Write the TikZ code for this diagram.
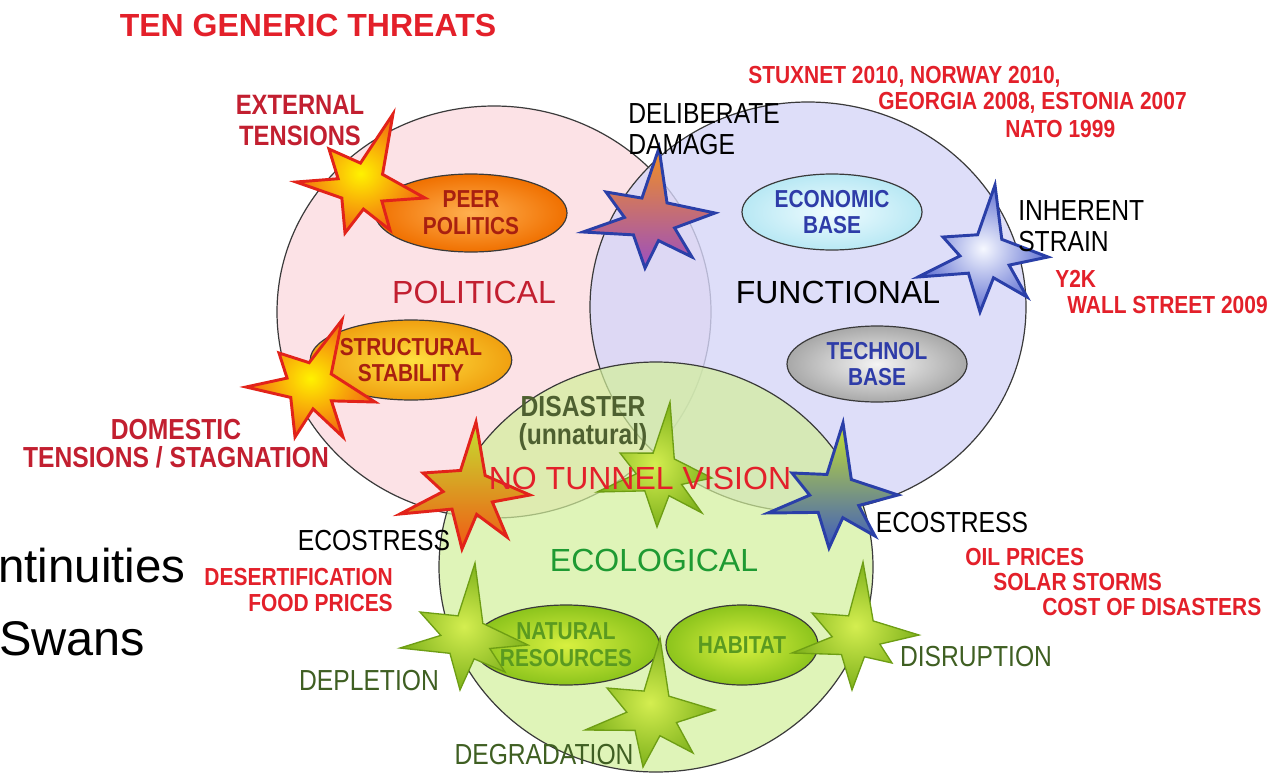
\documentclass[tikz,border=0pt]{standalone}
\usepackage{fontspec}
\setmainfont{Liberation Sans}
\newfontfamily\narrowfont[FakeStretch=0.85]{Liberation Sans}
\usepackage{tikz}
\usetikzlibrary{shapes.geometric}
\usetikzlibrary{calc}

\definecolor{polpink}{HTML}{FCE2E6}
\definecolor{funclav}{HTML}{D6D6F8}
\definecolor{ecolime}{HTML}{D2EF9A}
\definecolor{rimgrey}{HTML}{3A3A3A}
\definecolor{threatred}{HTML}{E3202A}
\definecolor{deepred}{HTML}{C21F30}
\definecolor{peertext}{HTML}{A82010}
\definecolor{basetext}{HTML}{2E3CA8}
\definecolor{leafgreen}{HTML}{1E9A32}
\definecolor{olivetext}{HTML}{3F5F22}
\definecolor{natgreen}{HTML}{5A9A20}
\definecolor{disastertext}{HTML}{4E6030}
\definecolor{starred}{HTML}{E2231A}
\definecolor{starblue}{HTML}{2A3FA8}
\definecolor{stargreen}{HTML}{6E9E14}
% fills
\definecolor{peerin}{HTML}{FFB050}
\definecolor{peerout}{HTML}{F07000}
\definecolor{structin}{HTML}{FFE040}
\definecolor{structout}{HTML}{F0A010}
\definecolor{econin}{HTML}{F0FCFF}
\definecolor{econout}{HTML}{B8E8F4}
\definecolor{techin}{HTML}{F4F4F4}
\definecolor{techout}{HTML}{A8A8A8}
\definecolor{leafin}{HTML}{D8F040}
\definecolor{leafout}{HTML}{8CC41C}
\definecolor{flamein}{HTML}{FFF200}
\definecolor{flameout}{HTML}{F26B10}
\definecolor{delibtop}{HTML}{F39020}
\definecolor{delibbot}{HTML}{9B4FC0}
\definecolor{strin}{HTML}{F6F8FF}
\definecolor{strout}{HTML}{6070D2}
\definecolor{ecotop}{HTML}{C4E030}
\definecolor{ecoredbot}{HTML}{F05A14}
\definecolor{ecobluebot}{HTML}{3D5BC0}
\definecolor{greenin}{HTML}{D4EE50}
\definecolor{greenout}{HTML}{7FB21C}

% six pointed burst: style, centre, six tips in turn
\newcommand\blast[8]{%
  \draw[#1] (#3) -- ($0.54*(#2)+0.23*(#3)+0.23*(#4)$) -- (#4)
    -- ($0.54*(#2)+0.23*(#4)+0.23*(#5)$) -- (#5)
    -- ($0.54*(#2)+0.23*(#5)+0.23*(#6)$) -- (#6)
    -- ($0.54*(#2)+0.23*(#6)+0.23*(#7)$) -- (#7)
    -- ($0.54*(#2)+0.23*(#7)+0.23*(#8)$) -- (#8)
    -- ($0.54*(#2)+0.23*(#8)+0.23*(#3)$) -- cycle;}

\tikzset{
  redstar/.style={draw=starred, line width=2.2pt},
  bluestar/.style={draw=starblue, line width=2.2pt},
  greenstar/.style={draw=stargreen, line width=1pt, inner color=greenin, outer color=greenout},
  base/.style={ellipse, draw=rimgrey, line width=0.9pt, inner sep=0pt, align=center,
    font=\narrowfont\bfseries\fontsize{18.4}{20}\selectfont},
  biglbl/.style={inner sep=0pt, font=\fontsize{24}{26}\selectfont},
  sidelbl/.style={inner sep=0pt, align=left, font=\narrowfont\fontsize{21.75}{23.25}\selectfont},
  newslbl/.style={inner sep=0pt, text=threatred, font=\narrowfont\bfseries\fontsize{18.5}{19.5}\selectfont},
}

\begin{document}
\begin{tikzpicture}[x=0.75pt,y=0.75pt,yscale=-1,xscale=1]
\useasboundingbox (0,0) rectangle (1276,774);

%Shape: Circle [political]
\draw [draw=rimgrey, fill=polpink, line width=0.9] (494,312) ellipse [x radius=217, y radius=206];
%Shape: Circle [functional]
\draw [draw=rimgrey, fill=funclav, fill opacity=0.8, line width=0.9] (808,307) ellipse [x radius=218, y radius=205];
%Shape: Circle [ecological]
\draw [draw=rimgrey, fill=ecolime, fill opacity=0.7, line width=0.9] (656,567) ellipse [x radius=217, y radius=205];

%Shape: Ellipse
\node [base, inner color=peerin, outer color=peerout, text=peertext, minimum width=144pt, minimum height=58.5pt] (peer) at (471,213) {PEER\\POLITICS};
%Shape: Ellipse
\node [base, inner color=structin, outer color=structout, text=peertext, minimum width=121.5pt, minimum height=60pt] (struct) at (411,360) {STRUCTURAL\\STABILITY};
%Shape: Ellipse
\node [base, inner color=econin, outer color=econout, text=basetext, minimum width=135pt, minimum height=57pt] (econ) at (832,212) {ECONOMIC\\BASE};
%Shape: Ellipse
\node [base, inner color=techin, outer color=techout, text=basetext, minimum width=135pt, minimum height=57pt] (techn) at (877,364) {TECHNOL\\BASE};
%Shape: Ellipse
\node [base, inner color=leafin, outer color=leafout, text=natgreen, minimum width=133.5pt, minimum height=60pt] (natres) at (566,645) {NATURAL\\RESOURCES};
%Shape: Ellipse
\node [base, inner color=leafin, outer color=leafout, text=natgreen, minimum width=114pt, minimum height=60pt] (habitat) at (742,645) {HABITAT};

%Shape: Star [external tensions]
\blast{redstar, inner color=flamein, outer color=flameout}{360,190}{393,114}{425,198}{390,230}{345,233}{296,182}{329,149}
%Shape: Star [domestic tensions]
\blast{redstar, inner color=flamein, outer color=flameout}{308,385}{342,320}{375,402}{343,437}{295,437}{246,387}{279,353}
%Shape: Star [deliberate damage]
\blast{bluestar, top color=delibtop, bottom color=delibbot}{650,222}{659,148}{715,213}{692,257}{645,268}{583,232}{606,192}
%Shape: Star [inherent strain]
\blast{bluestar, inner color=strin, outer color=strout}{985,255}{995,185}{1048,257}{1027,297}{980,312}{918,277}{943,237}
%Shape: Star [ecostress, political side]
\blast{redstar, top color=ecotop, bottom color=ecoredbot}{470,490}{476,422}{530,495}{507,537}{462,549}{400,514}{423,473}
%Shape: Star [ecostress, functional side]
\blast{bluestar, top color=ecotop, bottom color=ecobluebot}{835,497}{843,423}{898,495}{875,536}{829,548}{768,513}{792,473}
%Shape: Star [disaster]
\blast{greenstar}{660,475}{670,402}{712,478}{702,513}{657,527}{597,492}{620,453}
%Shape: Star [depletion]
\blast{greenstar}{467,640}{475,563}{528,645}{505,672}{460,690}{400,648}{420,612}
%Shape: Star [degradation]
\blast{greenstar}{653,715}{660,638}{715,710}{693,753}{643,767}{585,730}{607,688}
%Shape: Star [disruption]
\blast{greenstar}{858,640}{863,562}{919,635}{892,663}{852,690}{792,653}{812,613}

% Text Node
\node [inner sep=0pt, text=threatred, font=\bfseries\fontsize{24}{26}\selectfont] (title) at (308,25) {TEN GENERIC THREATS};
% Text Node
\node [inner sep=0pt, align=center, text=deepred, font=\narrowfont\bfseries\fontsize{21}{23.25}\selectfont] (external) at (300,121) {EXTERNAL\\TENSIONS};
% Text Node
\node [sidelbl, anchor=west] (deliberate) at (628,129) {DELIBERATE\\DAMAGE};
% Text Node
\node [newslbl, anchor=west] (stuxnet) at (748,77) {STUXNET 2010, NORWAY 2010,};
\node [newslbl, anchor=west] (georgia) at (878,103) {GEORGIA 2008, ESTONIA 2007};
\node [newslbl, anchor=west] (nato) at (1005,129) {NATO 1999};
% Text Node
\node [sidelbl, anchor=west] (inherent) at (1018,226) {INHERENT\\STRAIN};
% Text Node
\node [newslbl, anchor=west] (ytwok) at (1055,279) {Y2K};
\node [newslbl, anchor=west] (wallst) at (1067,305) {WALL STREET 2009};
% Text Node
\node [biglbl, text=deepred] (political) at (474,292) {POLITICAL};
\node [biglbl] (functional) at (838,292) {FUNCTIONAL};
\node [biglbl, text=leafgreen] (ecological) at (654,560) {ECOLOGICAL};
\node [biglbl, text=threatred] (tunnel) at (640,478) {NO TUNNEL VISION};
% Text Node
\node [inner sep=0pt, align=center, text=disastertext, font=\narrowfont\bfseries\fontsize{21.75}{21}\selectfont] (disaster) at (583,423) {DISASTER\\(unnatural)};
% Text Node
\node [inner sep=0pt, align=center, text=deepred, font=\narrowfont\bfseries\fontsize{21.75}{21}\selectfont] (domestic) at (176,444) {DOMESTIC\\TENSIONS / STAGNATION};
% Text Node
\node [sidelbl] (ecoleft) at (374,541) {ECOSTRESS};
\node [sidelbl] (ecoright) at (952,523) {ECOSTRESS};
% Text Node
\node [newslbl, anchor=east, align=right] (desert) at (393,590) {DESERTIFICATION\\FOOD PRICES};
% Text Node
\node [newslbl, anchor=west] (oil) at (965,557) {OIL PRICES};
\node [newslbl, anchor=west] (solar) at (993,582) {SOLAR STORMS};
\node [newslbl, anchor=west] (cost) at (1042,607) {COST OF DISASTERS};
% Text Node
\node [sidelbl, text=olivetext] (depletion) at (369,681) {DEPLETION};
\node [sidelbl, text=olivetext] (degradation) at (544,755) {DEGRADATION};
\node [sidelbl, text=olivetext] (disruption) at (976,657) {DISRUPTION};
% Text Node
\node [inner sep=0pt, anchor=base west, font=\fontsize{35.6}{40}\selectfont] (contin) at (-2,582) {ntinuities};
\node [inner sep=0pt, anchor=base west, font=\fontsize{36.5}{40}\selectfont] (swans) at (-1,655) {Swans};

\end{tikzpicture}
\end{document}
